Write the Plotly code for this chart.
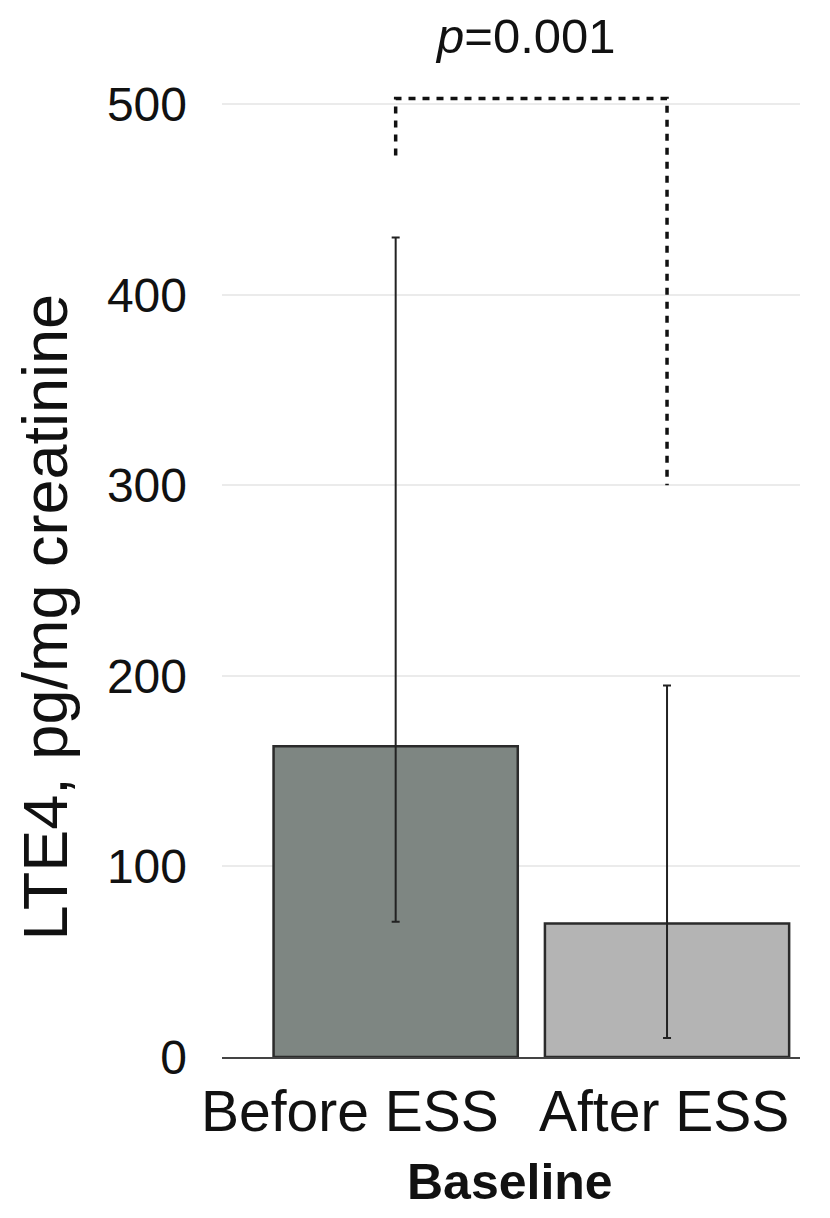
import plotly.graph_objects as go

# ---- data ----
categories = ["Before ESS", "After ESS"]
means = [163, 70]
upper = [430, 195]
lower = [71, 10]
bar_colors = ["#7e8682", "#b4b4b4"]
y_ticks = [0, 100, 200, 300, 400, 500]
bracket_left_bottom = 473
bracket_top = 503
bracket_right_bottom = 300
p_label = "<i>p</i>=0.001"
x_title = "<b>Baseline</b>"
y_title = "LTE4, pg/mg creatinine"
# horizontal placement (paper fraction) of the category labels as printed
cat_label_pos = [0.2215, 0.765]

err_plus = [u - m for u, m in zip(upper, means)]
err_minus = [m - l for m, l in zip(means, lower)]

FONT = "Liberation Sans, Arial, Helvetica, sans-serif"
YMAX = 520

fig = go.Figure()
fig.add_trace(go.Bar(
    x=categories, y=means, width=0.9,
    marker=dict(color=bar_colors, line=dict(color="#2b2b2b", width=2.5)),
    error_y=dict(type="data", symmetric=False, array=err_plus, arrayminus=err_minus,
                 color="#222222", thickness=2, width=4),
    showlegend=False, hoverinfo="skip",
))

# significance bracket
fig.add_trace(go.Scatter(
    x=[categories[0], categories[0], categories[1], categories[1]],
    y=[bracket_left_bottom, bracket_top, bracket_top, bracket_right_bottom],
    mode="lines", line=dict(color="#111111", width=3.5, dash="7px,7px"),
    showlegend=False, hoverinfo="skip", cliponaxis=False,
))

fig.add_annotation(x=0.48, y=536 / YMAX, xref="x", yref="paper", text=p_label, showarrow=False,
                   font=dict(family=FONT, size=49, color="#111111"),
                   xanchor="center", yanchor="middle")
fig.add_annotation(x=-0.307, y=0.444, xref="paper", yref="paper", text=y_title,
                   textangle=-90, showarrow=False, xanchor="center", yanchor="middle",
                   font=dict(family=FONT, size=63, color="#111111"))
fig.add_annotation(x=0.498, y=-0.126, xref="paper", yref="paper", text=x_title,
                   showarrow=False, xanchor="center", yanchor="middle",
                   font=dict(family=FONT, size=50, color="#111111"))
for cat, pos in zip(categories, cat_label_pos):
    fig.add_annotation(x=pos, y=-0.0545, xref="paper", yref="paper", text=cat,
                       showarrow=False, xanchor="center", yanchor="middle",
                       font=dict(family=FONT, size=57, color="#111111"))

# the page body adds an 8 px offset; margins compensate for it
fig.update_layout(
    width=830, height=1218,
    margin=dict(l=214, r=38, t=58, b=169, autoexpand=False),
    plot_bgcolor="white", paper_bgcolor="white",
    font=dict(family=FONT, color="#111111"),
)
fig.update_xaxes(
    type="category", range=[-0.64, 1.49], automargin=False,
    showline=True, linecolor="#444444", linewidth=2,
    ticks="", showticklabels=False, showgrid=False,
)
fig.update_yaxes(
    range=[0, YMAX], tickvals=y_ticks, ticks="", automargin=False,
    tickfont=dict(size=48, family=FONT, color="#111111"),
    ticklabelstandoff=34,
    showgrid=True, gridcolor="#ebebeb", gridwidth=1.5,
    zeroline=False, showline=False,
)

fig.write_html("out.html")
